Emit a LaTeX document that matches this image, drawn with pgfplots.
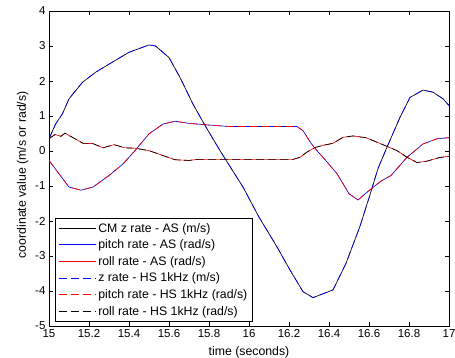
\documentclass[border=0pt]{standalone}
\usepackage{fontspec}
\setmainfont{Liberation Sans}
\usepackage{pgfplots}
\usepackage{pgfplotstable}
\pgfplotsset{compat=1.18}

\pgfplotstableread{
x y
15.000 0.35
15.033 0.77
15.067 1.06
15.100 1.49
15.167 1.96
15.233 2.25
15.300 2.48
15.400 2.82
15.500 3.03
15.533 3.00
15.600 2.67
15.655 2.10
15.720 1.34
15.780 0.73
15.855 0.01
15.970 -1.03
16.050 -1.89
16.140 -2.74
16.205 -3.40
16.270 -4.02
16.320 -4.19
16.420 -3.97
16.485 -3.21
16.555 -2.15
16.605 -1.25
16.645 -0.50
16.690 0.11
16.755 0.96
16.805 1.53
16.870 1.74
16.920 1.68
16.970 1.49
17.000 1.30
}\zrate

\pgfplotstableread{
x y
15.00 -0.27
15.05 -0.65
15.10 -1.03
15.16 -1.12
15.22 -1.03
15.30 -0.70
15.37 -0.37
15.43 0.01
15.50 0.49
15.57 0.77
15.63 0.85
15.70 0.79
15.78 0.75
15.90 0.70
16.24 0.70
16.27 0.58
16.31 0.22
16.34 0.01
16.37 -0.18
16.44 -0.65
16.50 -1.22
16.545 -1.40
16.60 -1.13
16.66 -0.86
16.71 -0.70
16.79 -0.18
16.87 0.20
16.94 0.35
17.00 0.38
}\pitchrate

\pgfplotstableread{
x y
15.00 0.35
15.03 0.47
15.06 0.42
15.08 0.51
15.12 0.38
15.17 0.22
15.22 0.21
15.27 0.09
15.325 0.18
15.38 0.09
15.43 0.08
15.50 0.01
15.57 -0.13
15.63 -0.25
15.70 -0.27
15.74 -0.24
16.22 -0.24
16.255 -0.18
16.29 -0.03
16.33 0.10
16.37 0.16
16.42 0.22
16.47 0.39
16.52 0.43
16.585 0.38
16.67 0.18
16.74 0.01
16.79 -0.18
16.84 -0.33
16.89 -0.29
16.95 -0.19
17.00 -0.15
}\rollrate

\begin{document}
\begin{tikzpicture}
\begin{axis}[
  scale only axis,
  width=400pt, height=315pt,
  xmin=15, xmax=17, ymin=-5, ymax=4,
  xtick={15,15.2,...,17.01},
  ytick={-5,-4,...,4},
  tick align=inside,
  major tick length=4pt,
  axis line style={line width=0.6pt},
  tick style={black, line width=0.5pt},
  /pgf/number format/assume math mode=true,
  /pgf/number format/fixed,
  tick label style={font=\fontsize{11.5}{13}\selectfont},
  label style={font=\fontsize{12.3}{14}\selectfont},
  xlabel={time (seconds)},
  ylabel={coordinate value (m/s or rad/s)},
  xlabel style={at={(axis description cs:0.5,-0.082)}, anchor=center},
  ylabel style={at={(axis description cs:-0.066,0.48)}, anchor=center},
  legend style={
    at={(axis description cs:0.016,0.013)}, anchor=south west,
    line width=0.6pt, fill=white,
    font=\fontsize{12.3}{14}\selectfont,
    row sep=2.2pt, inner xsep=3pt, inner ysep=3pt,
  },
  legend cell align=left,
  legend image post style={xscale=2.15, line width=0.9pt},
  every axis plot/.append style={line width=0.65pt},
]
\addplot[color=black] table[x=x,y=y] {\zrate};
\addlegendentry{CM z rate - AS (m/s)}
\addplot[color=blue] table[x=x,y=y] {\pitchrate};
\addlegendentry{pitch rate - AS (rad/s)}
\addplot[color=red] table[x=x,y=y] {\rollrate};
\addlegendentry{roll rate - AS (rad/s)}
\addplot[color=blue, dash pattern=on 8pt off 4pt] table[x=x,y=y] {\zrate};
\addlegendentry{z rate - HS 1kHz (m/s)}
\addplot[color=red, dash pattern=on 8pt off 4pt] table[x=x,y=y] {\pitchrate};
\addlegendentry{pitch rate - HS 1kHz (rad/s)}
\addplot[color=black, dash pattern=on 8pt off 4pt] table[x=x,y=y] {\rollrate};
\addlegendentry{roll rate - HS 1kHz (rad/s)}
\end{axis}
\pgfresetboundingbox
\path ([shift={(-49pt,-32pt)}]current axis.south west) rectangle ([shift={(6pt,11pt)}]current axis.north east);
\end{tikzpicture}
\end{document}
